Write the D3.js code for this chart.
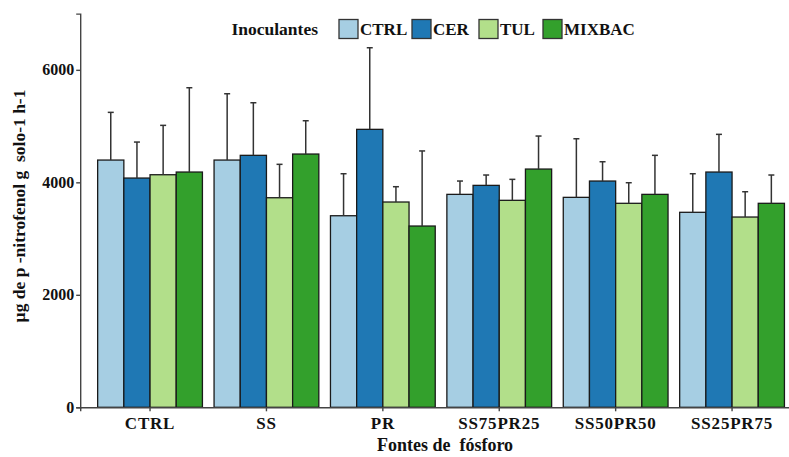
<!DOCTYPE html>
<html lang="pt">
<head>
<meta charset="UTF-8">
<title>Fontes de fósforo</title>
<style>
  body { margin: 0; background: #fff; }
  svg { display: block; font-family: "Liberation Serif", "Times New Roman", serif; font-weight: bold; }
  .axis path, .axis line { stroke: #444; stroke-width: 1.4; }
  .axis text { fill: #111; font-weight: bold; font-family: "Liberation Serif", "Times New Roman", serif; }
</style>
</head>
<body>
<svg width="789" height="457"></svg>
<script src="https://d3js.org/d3.v7.min.js"></script>
<script>
  // fontes de fósforo (eixo x) e inoculantes (séries)
  const fontes = ["CTRL", "SS", "PR", "SS75PR25", "SS50PR50", "SS25PR75"];
  const inoculantes = ["CTRL", "CER", "TUL", "MIXBAC"];
  const cores = ["#A6CEE3", "#1F78B4", "#B2DF8A", "#33A02C"];

  // médias
  const meanCTRL   = [4396, 4396, 3406, 3786, 3733, 3467];
  const meanCER    = [4076, 4480, 4942, 3946, 4023, 4183];
  const meanTUL    = [4135, 3726, 3650, 3680, 3627, 3383];
  const meanMIXBAC = [4183, 4503, 3223, 4236, 3786, 3627];

  // desvios (barra de erro superior)
  const sdCTRL   = [848, 1179, 747, 237, 1042, 686];
  const sdCER    = [640, 935, 1451, 184, 343, 670];
  const sdTUL    = [878, 594, 272, 373, 366, 450];
  const sdMIXBAC = [1499, 592, 1335, 587, 694, 503];

  const yTicks = [0, 2000, 4000, 6000];

  const means = [meanCTRL, meanCER, meanTUL, meanMIXBAC];
  const sds = [sdCTRL, sdCER, sdTUL, sdMIXBAC];

  const rows = [];
  fontes.forEach((f, i) => {
    inoculantes.forEach((s, j) => {
      rows.push({ fonte: f, inoc: s, mean: means[j][i], sd: sds[j][i], color: cores[j] });
    });
  });

  const svg = d3.select("svg");
  const plotLeft = 80.2, plotRight = 801.9, plotBottom = 407.3, plotTop = 13.6;

  const x = d3.scaleBand().domain(fontes).range([plotLeft, plotRight]).paddingInner(0).paddingOuter(0.1);
  const step = x.step();
  const x1 = d3.scaleBand().domain(inoculantes).range([0.05 * step, 0.95 * step]);
  const y = d3.scaleLinear().domain([0, 7000]).range([plotBottom, plotTop]);

  // barras
  svg.append("g").selectAll("rect")
    .data(rows)
    .enter().append("rect")
    .attr("x", d => x(d.fonte) + x1(d.inoc))
    .attr("y", d => y(d.mean))
    .attr("width", x1.bandwidth())
    .attr("height", d => y(0) - y(d.mean))
    .attr("fill", d => d.color)
    .attr("stroke", "#1a1a1a")
    .attr("stroke-width", 1.3);

  // barras de erro
  const eb = svg.append("g").attr("stroke", "#333").attr("stroke-width", 1.5);
  rows.forEach(d => {
    const cx = x(d.fonte) + x1(d.inoc) + x1.bandwidth() / 2;
    eb.append("line").attr("x1", cx).attr("x2", cx).attr("y1", y(d.mean)).attr("y2", y(d.mean + d.sd));
    eb.append("line").attr("x1", cx - 3).attr("x2", cx + 3).attr("y1", y(d.mean + d.sd)).attr("y2", y(d.mean + d.sd));
  });

  // eixos
  svg.append("g").attr("class", "axis")
    .attr("transform", `translate(0,${plotBottom})`)
    .call(d3.axisBottom(x).tickSizeOuter(0).tickSize(4).tickPadding(6))
    .selectAll("text").style("font-size", "17px").attr("letter-spacing", "0.8px");

  svg.append("g").attr("class", "axis")
    .attr("transform", `translate(${plotLeft},0)`)
    .call(d3.axisLeft(y).tickValues(yTicks).tickFormat(d3.format("d")).tickSizeOuter(0).tickSize(4).tickPadding(2))
    .selectAll("text").style("font-size", "16px");

  // títulos
  svg.append("text")
    .attr("x", 445).attr("y", 451)
    .attr("text-anchor", "middle")
    .style("font-size", "18px")
    .attr("fill", "#111")
    .attr("xml:space", "preserve")
    .text("Fontes de  fósforo");

  svg.append("text")
    .attr("transform", "translate(25,206) rotate(-90)")
    .attr("text-anchor", "middle")
    .style("font-size", "17.5px")
    .attr("fill", "#111")
    .attr("xml:space", "preserve")
    .text("µg de p -nitrofenol g  solo-1 h-1");

  // legenda
  const leg = svg.append("g");
  leg.append("text").attr("x", 318).attr("y", 35).attr("text-anchor", "end")
    .style("font-size", "17.5px").attr("fill", "#111").text("Inoculantes");
  const legX = [339, 412, 479, 543];
  inoculantes.forEach((s, j) => {
    leg.append("rect").attr("x", legX[j]).attr("y", 19.5).attr("width", 19).attr("height", 19)
      .attr("fill", cores[j]).attr("stroke", "#333").attr("stroke-width", 1.3);
    leg.append("text").attr("x", legX[j] + 21).attr("y", 35)
      .style("font-size", "17px").attr("fill", "#111").text(s);
  });
</script>
</body>
</html>
